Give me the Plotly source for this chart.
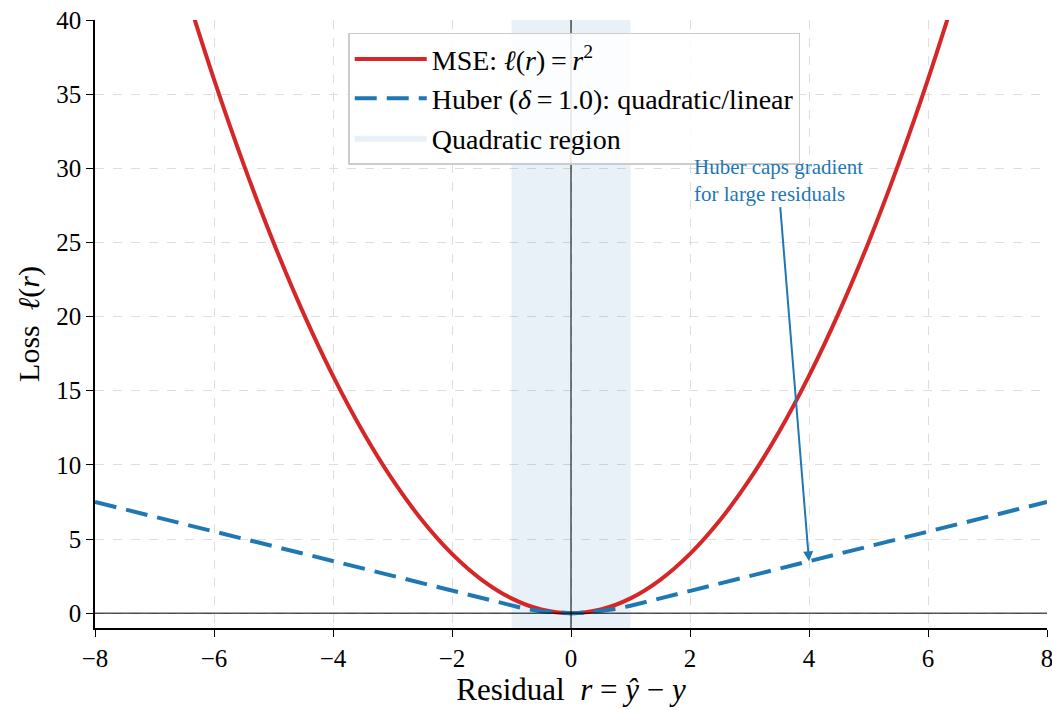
import plotly.graph_objects as go

# ---- data ----
mse_r = [-6.5, -6.0, -5.5, -5.0, -4.5, -4.0, -3.5, -3.0, -2.5, -2.0, -1.5, -1.0, -0.5,
         0.0, 0.5, 1.0, 1.5, 2.0, 2.5, 3.0, 3.5, 4.0, 4.5, 5.0, 5.5, 6.0, 6.5]
mse_loss = [42.25, 36.0, 30.25, 25.0, 20.25, 16.0, 12.25, 9.0, 6.25, 4.0, 2.25, 1.0, 0.25,
            0.0, 0.25, 1.0, 2.25, 4.0, 6.25, 9.0, 12.25, 16.0, 20.25, 25.0, 30.25, 36.0, 42.25]

huber_r = [-8, -7, -6, -5, -4, -3, -2, -1, -0.75, -0.5, -0.25, 0, 0.25, 0.5, 0.75,
           1, 2, 3, 4, 5, 6, 7, 8]
huber_loss = [7.5, 6.5, 5.5, 4.5, 3.5, 2.5, 1.5, 0.5, 0.28, 0.125, 0.03, 0.0, 0.03, 0.125, 0.28,
              0.5, 1.5, 2.5, 3.5, 4.5, 5.5, 6.5, 7.5]

region_bounds = [-1.0, 1.0]
x_range = [-8, 8]
y_range = [-1, 40]
x_ticks = [-8, -6, -4, -2, 0, 2, 4, 6, 8]
y_ticks = [0, 5, 10, 15, 20, 25, 30, 35, 40]

annot_head = (4.0, 3.5)
annot_tail = (3.48, 29.2)

RED = "#d62728"
BLUE = "#1f77b4"
FONT = "Liberation Serif"
TS = "\u2009"  # thin space

fig = go.Figure()

fig.add_trace(go.Scatter(
    x=[region_bounds[0], region_bounds[1], region_bounds[1], region_bounds[0], region_bounds[0]],
    y=[y_range[0], y_range[0], y_range[1], y_range[1], y_range[0]],
    fill="toself", fillcolor="rgba(31,119,180,0.10)",
    line=dict(width=0, color="rgba(31,119,180,0.10)"),
    mode="lines", name="Quadratic region", legendrank=3, hoverinfo="skip",
))

fig.add_trace(go.Scatter(
    x=mse_r, y=mse_loss, mode="lines", line=dict(color=RED, width=4, shape="spline"),
    name=f"MSE: <i>ℓ</i>(<i>r</i>){TS}={TS}<i>r</i><sup>2</sup>", legendrank=1,
))

fig.add_trace(go.Scatter(
    x=huber_r, y=huber_loss, mode="lines",
    line=dict(color=BLUE, width=4, dash="22px,10px"),
    name=f"Huber (<i>δ</i>{TS}={TS}1.0): quadratic/linear", legendrank=2,
))

# reference lines
fig.add_shape(type="line", xref="x", yref="paper", x0=0, x1=0, y0=0, y1=1,
              line=dict(color="black", width=1), layer="above")
fig.add_shape(type="line", xref="paper", yref="y", x0=0, x1=1, y0=0, y1=0,
              line=dict(color="black", width=1), layer="above")

fig.add_annotation(
    x=annot_head[0], y=annot_head[1], ax=annot_tail[0], ay=annot_tail[1],
    xref="x", yref="y", axref="x", ayref="y",
    text="Huber caps gradient<br>for large residuals", align="left",
    font=dict(family=FONT, size=21, color=BLUE),
    showarrow=True, arrowhead=2, arrowsize=1, arrowwidth=2, arrowcolor=BLUE,
)

fig.update_layout(
    width=1052, height=710,
    margin=dict(l=95, r=5, t=20, b=82),
    paper_bgcolor="white", plot_bgcolor="white",
    font=dict(family=FONT, size=25, color="black"),
    showlegend=True,
    legend=dict(
        x=0.266, y=0.979, xanchor="left", yanchor="top",
        bgcolor="rgba(255,255,255,0.85)", bordercolor="#cccccc", borderwidth=1.5,
        font=dict(family=FONT, size=28), tracegroupgap=4, itemwidth=72,
    ),
    xaxis=dict(
        range=x_range, tickvals=x_ticks, ticktext=[str(v).replace("-", "−") for v in x_ticks],
        showgrid=True, gridcolor="#dddddd", griddash="dash", gridwidth=1,
        zeroline=False, showline=True, linecolor="black", linewidth=1.5,
        ticks="outside", ticklen=7, tickcolor="black", ticklabeloverflow="allow",
        automargin=False,
        tickfont=dict(family=FONT, size=25),
        title=dict(text="Residual  <i>r</i> = <i>ŷ</i> − <i>y</i>", font=dict(family=FONT, size=31), standoff=8),
    ),
    yaxis=dict(
        range=y_range, tickvals=y_ticks,
        showgrid=True, gridcolor="#dddddd", griddash="dash", gridwidth=1,
        zeroline=False, showline=True, linecolor="black", linewidth=1.5,
        ticks="outside", ticklen=7, tickcolor="black",
        tickfont=dict(family=FONT, size=25),
        title=dict(text="Loss  <i>ℓ</i>(<i>r</i>)", font=dict(family=FONT, size=30), standoff=8),
    ),
)

fig.write_html(
    "out.html",
    config={"displayModeBar": False},
    post_script="document.body.style.margin='0';document.body.style.overflow='hidden';",
)
